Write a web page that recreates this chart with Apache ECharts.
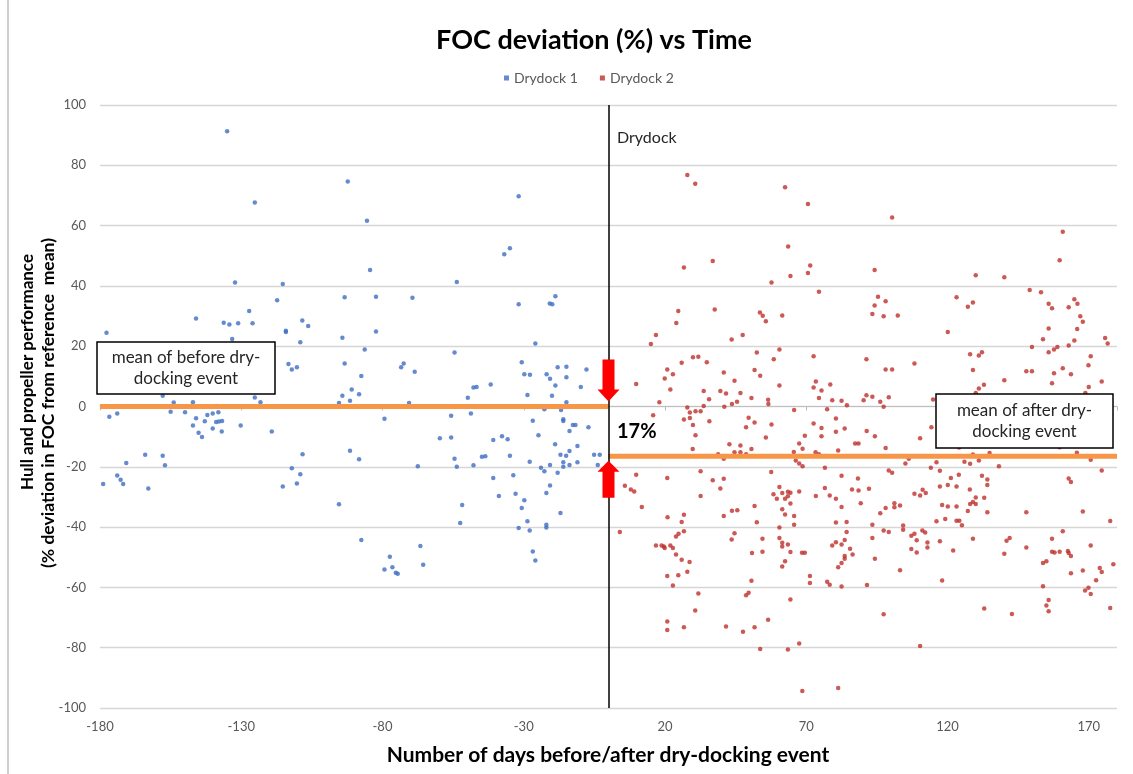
<!DOCTYPE html>
<html>
<head>
<meta charset="utf-8">
<script src="https://cdn.jsdelivr.net/npm/echarts@6/dist/echarts.min.js"></script>
<style>html,body{margin:0;padding:0;background:#fff;}#c{width:1133px;height:774px;}</style>
</head>
<body>
<div id="c"></div>
<script>
// ---------- data ----------
var xTicks = [-180, -130, -80, -30, 20, 70, 120, 170];
var yTicks = [-100, -80, -60, -40, -20, 0, 20, 40, 60, 80, 100];
var drydockDay = 0;
var meanBefore = 0;
var meanAfter = -16.5;
var arrowDownAt = [0, 8.6];
var arrowUpAt = [0, -24.1];

var drydock1 = [
[-135.0,91.3],[-92.3,74.6],[-125.2,67.7],[-132.2,41.1],[-115.3,40.6],[-93.4,36.2],[-117.3,35.2],[-127.2,31.7],[-146.0,29.2],[-136.2,27.8],[-134.2,27.2],[-131.1,27.6],[-126.0,27.6],[-108.4,28.5],[-106.3,26.7],[-114.2,25.1],[-114.2,24.7],[-177.7,24.5],[-94.2,22.8],[-109.1,21.3],[-133.2,22.4],[-113.3,14.1],[-112.1,12.3],[-110.3,13.0],[-93.4,14.3],[-90.9,5.6],[-157.8,3.6],[-153.9,1.3],[-147.1,1.4],[-125.2,3.0],[-123.2,1.4],[-94.2,3.6],[-91.5,1.9],[-95.4,1.2],
[-85.5,61.6],[-31.8,69.7],[-34.9,52.5],[-36.9,50.5],[-84.4,45.3],[-53.7,41.3],[-82.3,36.4],[-69.4,36.1],[-31.8,33.9],[-20.8,34.2],[-19.9,33.9],[-18.8,36.6],[-82.3,24.9],[-25.9,20.9],[-86.3,18.9],[-54.5,17.9],[-30.7,14.7],[-73.4,13.0],[-72.5,14.3],[-68.6,11.5],[-29.8,10.7],[-27.8,10.5],[-21.9,10.7],[-20.7,9.2],[-18.0,13.0],[-14.9,13.2],[-14.9,9.7],[-7.8,12.3],[-87.5,10.1],[-88.3,4.1],[-70.6,1.2],[-49.8,2.9],[-47.8,6.3],[-46.7,6.5],[-41.7,7.3],[-28.7,3.8],[-20.0,3.6],[-18.8,7.0],[-9.8,6.5],[-14.9,1.4],
[-138.9,0.2],[-135.0,-0.1],[-176.7,-3.4],[-173.9,-2.3],[-155.0,-1.7],[-149.9,-1.9],[-146.0,-3.9],[-147.1,-6.3],[-142.9,-4.9],[-142.0,-2.8],[-140.1,-2.3],[-138.1,-1.9],[-138.9,-5.1],[-137.9,-5.0],[-136.8,-4.8],[-145.1,-8.7],[-143.9,-10.1],[-140.1,-7.3],[-136.9,-8.3],[-130.2,-6.3],[-119.2,-8.3],[-170.7,-18.7],[-164.0,-16.0],[-157.8,-16.3],[-157.0,-19.5],[-173.9,-22.9],[-172.7,-24.3],[-171.8,-25.7],[-178.9,-25.7],[-162.9,-27.2],[-108.3,-15.8],[-112.1,-20.5],[-109.1,-22.5],[-110.3,-25.5],[-115.3,-26.5],[-95.4,-32.4],[-91.5,-14.7],
[-22.7,-0.9],[-16.8,-1.2],[-79.3,-4.1],[-55.7,-3.1],[-48.7,-2.3],[-26.8,-4.7],[-16.0,-4.2],[-16.0,-4.8],[-12.6,-6.1],[-11.7,-6.1],[-7.1,-6.9],[-13.8,-8.1],[-59.7,-10.5],[-55.7,-10.3],[-40.8,-11.1],[-37.7,-9.9],[-35.7,-10.9],[-24.8,-9.5],[-18.9,-12.5],[-11.0,-13.1],[-88.3,-17.5],[-54.5,-17.3],[-44.8,-16.7],[-43.6,-16.5],[-34.9,-16.3],[-27.9,-18.3],[-17.0,-16.0],[-15.0,-16.3],[-13.8,-14.8],[-16.0,-18.5],[-13.8,-19.4],[-11.0,-18.5],[-5.1,-16.0],[-3.1,-16.0],[-3.8,-19.4],[-67.5,-19.8],[-53.7,-20.0],[-47.8,-19.5],[-23.9,-20.3],[-22.7,-21.5],[-20.7,-19.4],[-18.0,-22.0],[-16.0,-20.0],[-40.8,-23.7],[-33.7,-22.8],[-20.7,-26.2],[-22.0,-28.7],[-38.8,-29.7],[-32.9,-28.9],[-29.8,-31.1],[-30.7,-33.7],[-51.8,-32.7],[-52.5,-38.6],[-28.7,-38.1],[-31.8,-40.3],[-27.9,-41.1],[-22.0,-39.2],[-22.0,-40.1],[-17.0,-35.3],[-87.5,-44.3],[-66.6,-46.3],[-77.4,-49.8],[-79.3,-54.1],[-76.5,-53.3],[-75.3,-55.1],[-74.6,-55.5],[-65.6,-52.5],[-26.8,-48.1],[-25.9,-51.1]
];

var drydock2 = [
[27.9,76.8],[30.7,73.9],[62.5,72.7],[70.6,67.2],[63.6,53.1],[26.7,46.1],[36.9,48.3],[71.4,46.8],[70.6,44.3],[64.4,43.3],[57.7,41.1],[74.5,38.1],[24.7,31.7],[24.0,27.7],[37.6,32.2],[53.6,31.2],[54.6,30.1],[55.7,28.3],[61.5,30.2],[16.8,23.7],[15.0,20.7],[43.6,22.2],[47.5,23.7],[52.5,17.9],[60.5,18.9],[58.5,15.7],[72.6,16.7],[25.9,14.5],[29.9,16.3],[31.8,16.5],[34.8,14.7],[20.8,12.3],[19.9,9.3],[22.8,10.7],[21.9,5.6],[9.8,7.5],[40.8,11.3],[44.6,8.5],[51.7,12.1],[53.7,10.2],[60.5,7.0],[73.4,8.3],[72.6,6.3],[75.4,5.3],[78.5,7.3],[33.7,5.1],[35.6,2.4],[39.6,5.1],[41.6,4.3],[46.7,4.5],[45.5,1.6],[50.6,2.8],[56.5,2.2],[18.0,1.4],[74.5,2.8],[79.2,2.1],[82.5,1.9],
[100.4,62.7],[160.8,58.0],[159.7,48.5],[94.2,45.3],[130.0,43.5],[140.1,42.9],[149.1,38.6],[153.1,37.9],[95.4,36.4],[98.1,34.9],[94.2,33.5],[93.4,30.7],[97.4,29.9],[102.4,30.2],[123.2,36.2],[129.0,34.5],[127.2,33.1],[155.8,34.1],[157.0,32.6],[162.9,32.9],[164.9,35.6],[166.0,34.1],[167.0,29.9],[167.9,28.1],[165.9,25.7],[155.8,25.9],[120.1,24.7],[153.8,22.3],[164.9,21.9],[175.8,22.7],[176.7,20.9],[149.9,19.7],[155.8,18.0],[157.7,18.9],[158.9,19.7],[162.9,20.2],[170.7,16.7],[169.9,13.7],[91.3,15.7],[108.3,14.3],[128.0,17.3],[131.1,16.9],[132.2,18.0],[98.1,12.3],[100.4,12.3],[129.0,12.1],[147.9,11.7],[149.9,11.7],[157.7,11.0],[160.8,12.7],[163.7,10.7],[140.1,8.7],[131.1,6.0],[132.9,7.2],[157.0,7.7],[170.0,6.5],[174.6,8.3],[90.3,2.1],[91.3,3.7],[93.4,3.2],[96.2,1.6],[99.2,3.1],[114.9,2.3],[130.0,4.5],[168.8,4.5],
[27.9,-0.3],[28.8,-2.0],[30.8,-1.6],[32.6,-1.6],[33.7,0.2],[41.0,-0.1],[43.7,0.8],[56.6,0.8],[65.7,-1.2],[77.4,-0.9],[84.4,0.4],[26.7,-4.3],[28.8,-3.8],[29.9,-6.1],[35.7,-4.9],[15.8,-2.9],[30.8,-9.5],[29.8,-14.1],[48.7,-6.9],[49.6,-3.7],[51.7,-5.3],[57.7,-6.0],[55.7,-10.3],[42.8,-12.5],[46.7,-12.9],[50.6,-14.1],[44.6,-15.2],[46.7,-15.2],[48.7,-15.8],[38.8,-15.8],[40.8,-17.3],[65.6,-15.1],[67.5,-12.3],[68.7,-14.0],[69.5,-9.7],[72.6,-5.6],[75.4,-7.1],[75.4,-9.9],[80.5,-4.0],[80.5,-8.4],[83.6,-7.3],[73.3,-15.2],[74.5,-15.8],[81.3,-14.6],[87.3,-12.3],[88.5,-12.3],[66.3,-17.9],[67.5,-18.9],[68.7,-19.8],[76.6,-20.3],[9.8,-22.6],[5.8,-26.3],[7.9,-27.5],[9.1,-28.2],[11.8,-33.3],[20.8,-23.7],[32.6,-21.5],[32.6,-29.7],[36.9,-24.5],[39.6,-27.2],[40.8,-24.0],[57.6,-21.7],[60.5,-26.7],[58.4,-29.1],[59.6,-30.6],[61.5,-28.7],[62.5,-30.6],[63.5,-28.3],[64.4,-28.6],[63.5,-29.8],[64.4,-32.2],[67.5,-28.2],[51.7,-33.0],[73.4,-29.7],[76.6,-27.0],[78.3,-29.5],[80.5,-30.6],[82.5,-23.0],[86.2,-27.5],[88.5,-27.9],[88.3,-23.9],[82.5,-33.3],[20.9,-36.7],[26.7,-35.9],[25.9,-38.3],[40.8,-36.3],[43.7,-34.6],[45.6,-34.4],[52.5,-38.4],[61.5,-34.1],[62.5,-35.8],[65.7,-36.3],[65.7,-39.2],[60.5,-40.1],[80.5,-38.5],[84.3,-38.3],[4.0,-41.6],[26.7,-41.4],[24.8,-42.2],[23.9,-43.1],[16.8,-46.1],[18.8,-46.1],[19.6,-46.4],[19.9,-46.9],[21.9,-46.1],[22.8,-46.9],[23.9,-49.1],[25.9,-50.8],[28.7,-51.6],[27.9,-54.8],[20.8,-56.2],[24.7,-56.0],[22.8,-59.4],[43.6,-44.1],[44.6,-42.0],[50.8,-48.6],[54.5,-43.9],[54.5,-48.2],[60.5,-43.6],[61.5,-45.2],[61.5,-46.4],[63.5,-45.8],[64.4,-48.3],[62.5,-51.3],[61.5,-53.1],[68.5,-48.5],[69.5,-48.5],[71.3,-56.2],[71.3,-58.5],[79.2,-46.1],[80.5,-45.0],[82.5,-45.8],[84.3,-41.6],[83.6,-44.3],[85.5,-47.2],[86.4,-49.1],[83.6,-49.6],[83.6,-50.5],[82.5,-51.9],[81.3,-53.3],[77.4,-58.1],[78.3,-59.1],[82.5,-59.7],[50.6,-57.8],[31.8,-62.0],[30.7,-67.7],[48.7,-62.6],[49.6,-61.8],[64.4,-64.0],[20.8,-71.3],[20.8,-74.1],[26.7,-73.2],[41.6,-73.0],[47.6,-74.7],[51.7,-73.2],[56.5,-70.7],[53.7,-80.4],[63.5,-80.6],[67.5,-78.6],[68.6,-94.4],[81.3,-93.4],
[97.4,-0.1],[91.4,-8.1],[94.3,-9.9],[98.1,-13.8],[110.3,-10.5],[114.3,-6.9],[124.1,-13.6],[129.0,-15.9],[131.1,-16.5],[131.1,-17.9],[134.9,-15.4],[126.0,-18.3],[128.0,-19.0],[116.1,-18.5],[105.1,-18.9],[106.3,-17.3],[138.2,-19.8],[159.7,-13.5],[165.8,-15.3],[170.7,-17.7],[174.6,-21.2],[99.2,-21.2],[100.4,-22.0],[89.3,-32.1],[92.2,-27.3],[96.2,-35.4],[98.1,-33.7],[101.2,-32.1],[101.2,-33.4],[103.2,-32.8],[108.3,-28.9],[110.3,-29.5],[111.2,-27.6],[112.3,-28.7],[114.1,-20.3],[117.3,-21.3],[117.3,-26.5],[120.1,-26.0],[121.2,-23.7],[123.2,-26.5],[124.0,-22.6],[127.9,-27.5],[118.1,-32.7],[120.1,-33.2],[123.2,-33.2],[128.0,-32.3],[129.0,-31.7],[130.0,-30.2],[130.0,-32.3],[127.2,-34.7],[132.2,-23.0],[134.1,-24.2],[134.1,-26.0],[133.0,-30.3],[134.1,-35.1],[116.1,-38.1],[119.2,-37.3],[123.2,-37.9],[124.2,-37.9],[125.1,-39.4],[93.4,-39.2],[93.4,-43.6],[94.3,-50.5],[97.4,-41.1],[99.2,-41.6],[104.3,-39.5],[104.3,-40.9],[107.2,-42.9],[108.3,-42.2],[109.1,-44.4],[111.1,-41.1],[112.1,-41.8],[112.9,-45.1],[112.9,-46.8],[107.2,-47.3],[109.1,-48.4],[117.3,-44.7],[122.0,-47.8],[129.0,-43.9],[103.2,-54.3],[118.1,-57.7],[91.5,-59.2],[97.4,-68.9],[110.3,-79.4],[133.0,-67.0],[142.8,-68.8],[147.9,-35.1],[140.1,-48.8],[140.9,-44.5],[142.0,-43.6],[147.9,-46.8],[162.9,-23.9],[163.7,-25.0],[167.9,-34.8],[177.6,-38.0],[157.0,-43.9],[160.8,-41.4],[170.7,-46.1],[157.0,-48.2],[157.9,-48.4],[159.7,-48.2],[162.6,-47.9],[162.9,-48.6],[163.7,-49.6],[153.8,-51.9],[155.0,-51.3],[163.7,-55.3],[167.9,-54.4],[173.9,-53.6],[174.6,-54.9],[172.6,-57.6],[178.7,-52.3],[153.8,-59.6],[168.7,-61.0],[169.9,-60.1],[170.7,-62.2],[155.8,-64.2],[155.0,-66.0],[155.8,-67.9],[177.6,-66.8]
];

// ---------- chart ----------
var FONT = 'Lato, "Open Sans", sans-serif';
var xMin = xTicks[0], xMax = 180, xStep = xTicks[1] - xTicks[0];
var yMin = yTicks[0], yMax = yTicks[yTicks.length - 1], yStep = yTicks[1] - yTicks[0];

var downArrow = 'path://M5,0 L17,0 L17,30 L22,30 L11,42 L0,30 L5,30 Z';
var upArrow = 'path://M11,0 L22,11 L17,11 L17,37 L5,37 L5,11 L0,11 Z';

var chart = echarts.init(document.getElementById('c'), null, {renderer: 'canvas'});
chart.setOption({
  animation: false,
  backgroundColor: '#ffffff',
  grid: {left: 100, right: 16, top: 105, bottom: 66, containLabel: false},
  legend: {
    data: ['Drydock 1', 'Drydock 2'],
    left: 499, top: 66,
    icon: 'rect', itemWidth: 5, itemHeight: 5, itemGap: 22,
    textStyle: {fontFamily: FONT, fontSize: 14, color: '#595959'}
  },
  xAxis: [{
    type: 'value', min: xMin, max: xMax, interval: xStep,
    axisLine: {show: false, onZero: false},
    axisTick: {show: false},
    splitLine: {show: false},
    axisLabel: {fontFamily: FONT, fontSize: 13, color: '#595959', margin: 12, showMaxLabel: false}
  }, {
    type: 'value', min: xMin, max: xMax, interval: xStep, position: 'bottom',
    axisLine: {show: true, onZero: true, lineStyle: {color: '#BFBFBF', width: 1}},
    axisTick: {show: true, length: 4, lineStyle: {color: '#BFBFBF'}},
    splitLine: {show: false},
    axisLabel: {show: false}
  }],
  yAxis: {
    type: 'value', min: yMin, max: yMax, interval: yStep,
    axisLine: {show: false}, axisTick: {show: false},
    splitLine: {show: true, lineStyle: {color: '#D6D6D6', width: 1.3}},
    axisLabel: {fontFamily: FONT, fontSize: 13, color: '#595959', margin: 14}
  },
  series: [{
    name: 'Drydock 1', type: 'scatter', data: drydock1,
    symbol: 'circle', symbolSize: 4.5,
    itemStyle: {color: '#3F6EC2'}, z: 3
  }, {
    name: 'Drydock 2', type: 'scatter', data: drydock2,
    symbol: 'circle', symbolSize: 4.5,
    itemStyle: {color: '#BE2F2A'}, z: 3
  }, {
    name: 'meanBefore', type: 'line', data: [[xMin, meanBefore], [drydockDay, meanBefore]],
    symbol: 'none', lineStyle: {color: '#F79646', width: 5}, z: 4, silent: true
  }, {
    name: 'meanAfter', type: 'line', data: [[drydockDay, meanAfter], [xMax, meanAfter]],
    symbol: 'none', lineStyle: {color: '#F79646', width: 5}, z: 4, silent: true,
    markLine: {
      silent: true, symbol: 'none', label: {show: false},
      lineStyle: {color: '#000000', width: 1.5, type: 'solid'},
      data: [{xAxis: drydockDay}]
    },
    markPoint: {
      silent: true, label: {show: false},
      itemStyle: {color: '#FF0000'},
      data: [
        {coord: arrowDownAt, symbol: downArrow, symbolSize: [22, 42]},
        {coord: arrowUpAt, symbol: upArrow, symbolSize: [22, 37]}
      ]
    }
  }],
  graphic: [
    {type: 'line', shape: {x1: 8, y1: 0, x2: 8, y2: 774}, style: {stroke: '#BFBFBF', lineWidth: 1.5}, z: 100},
    {type: 'text', x: 594, y: 40, z: 100,
     style: {text: 'FOC deviation (%) vs Time', font: 'bold 27px ' + FONT, fill: '#000', textAlign: 'center', textVerticalAlign: 'middle'}},
    {type: 'text', x: 608, y: 755, z: 100,
     style: {text: 'Number of days before/after dry-docking event', font: 'bold 21px ' + FONT, fill: '#000', textAlign: 'center', textVerticalAlign: 'middle'}},
    {type: 'text', x: 28, y: 372, rotation: Math.PI / 2, z: 100,
     style: {text: 'Hull and propeller performance', font: 'bold 17px ' + FONT, fill: '#000', textAlign: 'center', textVerticalAlign: 'middle'}},
    {type: 'text', x: 48, y: 403, rotation: Math.PI / 2, z: 100,
     style: {text: '(% deviation in FOC from reference  mean)', font: 'bold 17.5px ' + FONT, fill: '#000', textAlign: 'center', textVerticalAlign: 'middle'}},
    {type: 'text', x: 617, y: 138, z: 100,
     style: {text: 'Drydock', font: '16px ' + FONT, fill: '#262626', textAlign: 'left', textVerticalAlign: 'middle'}},
    {type: 'text', x: 617, y: 432, z: 100,
     style: {text: '17%', font: 'bold 20px ' + FONT, fill: '#000', textAlign: 'left', textVerticalAlign: 'middle'}},
    {type: 'rect', shape: {x: 97, y: 342, width: 178, height: 52}, z: 100,
     style: {fill: '#ffffff', stroke: '#000000', lineWidth: 1.5}},
    {type: 'text', x: 186, y: 368, z: 101,
     style: {text: 'mean of before dry-\ndocking event', font: '17px ' + FONT, lineHeight: 21, fill: '#262626', textAlign: 'center', textVerticalAlign: 'middle'}},
    {type: 'rect', shape: {x: 936, y: 394, width: 177, height: 54}, z: 100,
     style: {fill: '#ffffff', stroke: '#000000', lineWidth: 1.5}},
    {type: 'text', x: 1024.5, y: 421, z: 101,
     style: {text: 'mean of after dry-\ndocking event', font: '17px ' + FONT, lineHeight: 21, fill: '#262626', textAlign: 'center', textVerticalAlign: 'middle'}}
  ]
});
</script>
</body>
</html>
